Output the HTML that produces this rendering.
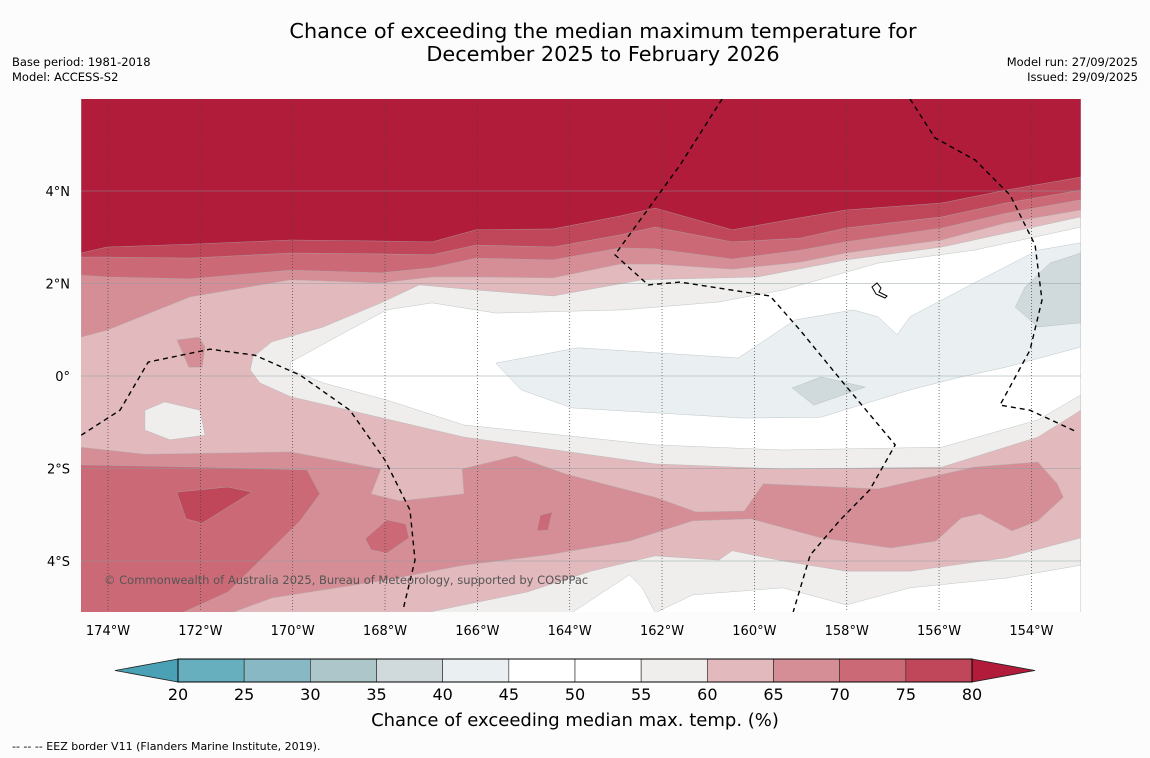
<!DOCTYPE html>
<html><head><meta charset="utf-8"><style>
body{margin:0;background:#fcfcfc;width:1150px;height:758px;overflow:hidden;font-family:"DejaVu Sans","Liberation Sans",sans-serif}
svg{position:absolute;left:0;top:0;font-family:"DejaVu Sans","Liberation Sans",sans-serif}
</style></head><body>
<svg id="chart" width="1150" height="758" viewBox="0 0 1150 758">
<defs><clipPath id="plotclip"><rect x="81" y="99" width="1000" height="513"/></clipPath></defs>
<text x="603" y="38" font-size="20.8" text-anchor="middle" fill="#000">Chance of exceeding the median maximum temperature for</text>
<text x="603" y="61" font-size="20.8" text-anchor="middle" fill="#000">December 2025 to February 2026</text>
<text x="12" y="66" font-size="11.5">Base period: 1981-2018</text>
<text x="12" y="81" font-size="11.5">Model: ACCESS-S2</text>
<text x="1138" y="66" font-size="11.5" text-anchor="end">Model run: 27/09/2025</text>
<text x="1138" y="81" font-size="11.5" text-anchor="end">Issued: 29/09/2025</text>
<g id="plot" clip-path="url(#plotclip)"></g>
<g id="axes"></g>
<g id="cbar"></g>
<text x="575" y="726" font-size="18" text-anchor="middle">Chance of exceeding median max. temp. (%)</text>
<text x="12" y="750" font-size="11">--  --  -- EEZ border V11 (Flanders Marine Institute, 2019).</text>
</svg>
<script>
const lonTicks=[-174,-172,-170,-168,-166,-164,-162,-160,-158,-156,-154];
const latTicks=[4,2,0,-2,-4];
const cbLevels=[20,25,30,35,40,45,50,55,60,65,70,75,80];
const cbColors=["#67aebe","#87b8c4","#adc6c9","#d0d9db","#eaf0f2","#ffffff","#ffffff","#efeeec","#e2b9bd","#d68e96","#cb6a76","#c0475a"];
const bandLons=[-174.58,-174.02,-172.22,-170.04,-168.11,-166.98,-166.03,-164.36,-162.91,-162.15,-160.48,-159.01,-158.02,-155.94,-154.55,-152.93];
const north65=[0.84,0.99,1.71,2.08,2.01,2.14,2.14,2.12,2.42,2.42,2.31,2.46,2.66,2.94,3.31,3.59];
const north70=[2.18,2.14,2.10,2.29,2.23,2.34,2.55,2.51,2.77,2.75,2.53,2.72,2.90,3.20,3.52,3.81];
const north75=[2.57,2.57,2.55,2.66,2.64,2.62,2.83,2.79,3.05,3.22,2.90,2.98,3.20,3.44,3.74,4.02];
const north80=[2.66,2.79,2.85,2.94,2.92,2.90,3.16,3.18,3.46,3.63,3.16,3.42,3.59,3.74,4.02,4.30];
const below60=[[-170.86,0.41],[-170.45,0.74],[-169.34,1.06],[-168.09,1.58],[-167.26,1.97],[-166.03,1.86],[-164.36,1.73],[-162.43,2.08],[-159.94,2.14],[-158.01,2.51],[-155.94,2.79],[-152.93,3.44],[-152.93,-0.74],[-153.86,-1.32],[-155.94,-1.97],[-159.38,-2.01],[-162.15,-1.90],[-166.29,-1.32],[-168.78,-0.74],[-170.04,-0.45],[-170.71,-0.15],[-170.92,0.13]];
const below55=[[-170.04,0.30],[-169.06,0.84],[-167.96,1.43],[-166.98,1.58],[-165.60,1.36],[-162.85,1.43],[-160.77,1.60],[-159.38,1.86],[-157.32,2.44],[-155.24,2.72],[-152.93,3.22],[-152.93,-0.41],[-153.86,-0.95],[-155.94,-1.54],[-159.38,-1.60],[-162.15,-1.49],[-166.29,-1.06],[-167.96,-0.52],[-169.34,-0.15],[-170.04,0.13]];
const below45=[[-165.60,0.28],[-163.82,0.61],[-160.35,0.39],[-159.12,1.21],[-157.86,1.43],[-157.32,1.28],[-156.91,0.89],[-156.63,1.28],[-155.24,2.01],[-153.86,2.72],[-152.93,2.88],[-152.93,0.63],[-154.55,0.19],[-155.52,-0.02],[-156.63,-0.30],[-158.56,-0.89],[-160.22,-0.91],[-163.95,-0.69],[-165.05,-0.30]];
const below40a=[[-152.93,2.66],[-153.60,2.44],[-154.14,1.92],[-154.35,1.49],[-153.86,1.06],[-152.93,1.15]];
const below40b=[[-159.18,-0.26],[-158.56,-0.02],[-157.60,-0.24],[-158.71,-0.63]];
const island5560=[[-173.20,-0.74],[-172.77,-0.56],[-172.01,-0.74],[-171.90,-1.28],[-172.66,-1.38],[-173.20,-1.17]];
const blob70n=[[-172.51,0.78],[-172.03,0.84],[-171.90,0.63],[-171.96,0.19],[-172.25,0.19]];
const bottom60=[[-167.96,-5.3],[-166.29,-4.95],[-164.92,-4.67],[-163.54,-4.22],[-162.15,-3.89],[-160.77,-3.98],[-160.48,-3.78],[-159.38,-4.00],[-158.01,-4.22],[-156.63,-4.22],[-154.55,-3.93],[-152.93,-3.50],[-152.93,-5.3]];
const bottom55=[[-164.23,-5.3],[-162.71,-4.30],[-162.43,-4.58],[-162.15,-5.12],[-161.33,-4.73],[-159.38,-4.58],[-158.01,-4.95],[-156.63,-4.58],[-154.55,-4.37],[-152.93,-4.09],[-152.93,-5.3]];
const south65=[[-174.58,-1.54],[-173.20,-1.69],[-170.04,-1.64],[-168.09,-2.01],[-168.30,-2.55],[-167.68,-2.70],[-166.29,-2.55],[-166.33,-2.01],[-165.18,-1.73],[-164.08,-2.12],[-162.15,-2.62],[-161.26,-2.94],[-160.22,-2.92],[-159.81,-2.33],[-157.32,-2.44],[-155.24,-1.97],[-153.86,-1.86],[-153.44,-2.33],[-153.31,-2.62],[-153.86,-3.13],[-154.42,-3.35],[-155.11,-2.98],[-155.52,-3.07],[-156.07,-3.57],[-157.04,-3.72],[-158.56,-3.50],[-160.07,-3.09],[-161.33,-3.13],[-162.71,-3.57],[-164.49,-3.87],[-166.29,-4.09],[-168.09,-4.43],[-170.45,-4.80],[-171.81,-5.3],[-174.7,-5.3]];
const south70=[[-174.7,-1.92],[-172.01,-1.97],[-169.69,-2.03],[-169.41,-2.55],[-169.84,-3.13],[-171.40,-4.67],[-172.79,-5.3],[-174.7,-5.3]];
const blob70a=[[-168.43,-3.52],[-167.96,-3.11],[-167.55,-3.20],[-167.48,-3.50],[-167.96,-3.83],[-168.30,-3.76]];
const blob70b=[[-164.64,-3.01],[-164.38,-2.94],[-164.47,-3.33],[-164.71,-3.35]];
const blob75=[[-172.51,-2.51],[-171.40,-2.40],[-170.88,-2.51],[-171.96,-3.18],[-172.31,-3.09]];
const eez1=[[-174.58,-1.28],[-173.74,-0.74],[-173.13,0.30],[-171.79,0.58],[-170.82,0.45],[-169.84,0.02],[-168.76,-0.74],[-168.00,-1.82],[-167.46,-2.90],[-167.35,-3.98],[-167.61,-5.06]];
const eez2=[[-160.70,5.99],[-161.61,4.56],[-163.02,2.62],[-162.30,1.97],[-161.61,2.03],[-159.66,1.73],[-159.01,0.99],[-158.04,-0.19],[-156.95,-1.49],[-157.50,-2.46],[-158.14,-3.11],[-158.79,-3.87],[-159.16,-5.10]];
const eez3=[[-156.63,5.99],[-156.09,5.15],[-155.22,4.67],[-154.46,3.91],[-153.92,2.83],[-153.77,1.64],[-154.03,0.56],[-154.68,-0.63],[-154.03,-0.74],[-153.01,-1.21]];

const NS="http://www.w3.org/2000/svg";
function xOf(lon){return 108+(lon+174)*46.17;}
function yOf(lat){return 376-lat*46.25;}
function cbX(v){return 178+(v-20)*(794/60);}
function mk(tag,attrs,parent){const e=document.createElementNS(NS,tag);for(const k in attrs)e.setAttribute(k,attrs[k]);parent.appendChild(e);return e;}
const plot=document.getElementById('plot');
const axes=document.getElementById('axes');
const cbar=document.getElementById('cbar');
function ptsStr(arr){return arr.map(p=>xOf(p[0]).toFixed(1)+','+yOf(p[1]).toFixed(1)).join(' ');}
function poly(arr,fill,name){
  const e=mk('polygon',{points:ptsStr(arr),fill:fill,stroke:'#a8b0b4','stroke-width':'0.5','stroke-opacity':'0.7'},plot);
  
  
}
function northBand(lats,fill,name){
  const arr=[[bandLons[0],7]].concat(bandLons.map((l,i)=>[l,lats[i]])).concat([[bandLons[bandLons.length-1],7]]);
  poly(arr,fill,name);
}
const base=mk('rect',{x:81,y:99,width:1000,height:513,fill:'#e2b9bd'},plot);


poly(below60,'#efeeec','band-55-60');
poly(below55,'#ffffff','band-45-55');
poly(below45,'#eaf0f2','band-40-45');
poly(below40a,'#d0d9db','band-35-40-east');
poly(below40b,'#d0d9db','band-35-40-central');
poly(island5560,'#efeeec','band-55-60-west-patch');
poly(blob70n,'#d68e96','band-65-70-north-patch');
northBand(north65,'#d68e96','band-north-65-70');
northBand(north70,'#cb6a76','band-north-70-75');
northBand(north75,'#c0475a','band-north-75-80');
northBand(north80,'#b01c3a','band-north-above-80');
poly(bottom60,'#efeeec','band-south-55-60');
poly(bottom55,'#ffffff','band-south-below-55');
poly(south65,'#d68e96','band-south-65-70');
poly(south70,'#cb6a76','band-south-70-75');
poly(blob70a,'#cb6a76','band-70-75-patch-a');
poly(blob70b,'#cb6a76','band-70-75-patch-b');
poly(blob75,'#c0475a','band-75-80-patch');
lonTicks.forEach(l=>{
  const g=mk('line',{x1:xOf(l),x2:xOf(l),y1:99,y2:612,stroke:'#444','stroke-width':'0.7','stroke-dasharray':'1,2'},plot);
  
  
  const t=mk('text',{x:xOf(l),y:635,'font-size':'13','text-anchor':'middle'},axes);
  t.textContent=Math.abs(l)+'°W';
  
  
});
latTicks.forEach(l=>{
  const g=mk('line',{x1:81,x2:1081,y1:yOf(l),y2:yOf(l),stroke:'#8a9a9e','stroke-width':'0.8','stroke-opacity':'0.6'},plot);
  
  
  const t=mk('text',{x:70,y:yOf(l)+5,'font-size':'13','text-anchor':'end'},axes);
  t.textContent=l===0?'0°':Math.abs(l)+'°'+(l>0?'N':'S');
  
  
});
[eez1,eez2,eez3].forEach(a=>{
  const e=mk('polyline',{points:ptsStr(a),fill:'none',stroke:'#000','stroke-width':'1.4','stroke-dasharray':'5,4'},plot);
  
  
});
const isl=mk('path',{d:'M872 287 l5 -4 l4 5 l-2 4 l8 4 l-2 2 l-9 -4 z',fill:'#fff',stroke:'#000','stroke-width':'1'},plot);


const cp=mk('text',{x:104,y:584,'font-size':'11.5',fill:'#555'},plot);
cp.textContent='© Commonwealth of Australia 2025, Bureau of Meteorology, supported by COSPPac';


cbColors.forEach((c,i)=>{
  const r=mk('rect',{x:cbX(cbLevels[i]),y:659,width:cbX(cbLevels[i+1])-cbX(cbLevels[i]),height:23,fill:c,stroke:'#222','stroke-width':'0.6'},cbar);
  
  
});
const tl=mk('polygon',{points:'178,659 115,670.5 178,682',fill:'#4aa0b4',stroke:'#222','stroke-width':'0.8'},cbar);


const tr=mk('polygon',{points:'972,659 1035,670.5 972,682',fill:'#b01c3a',stroke:'#222','stroke-width':'0.8'},cbar);


mk('rect',{x:178,y:659,width:794,height:23,fill:'none',stroke:'#000','stroke-width':'1'},cbar);
cbLevels.forEach(v=>{
  const t=mk('text',{x:cbX(v),y:700,'font-size':'16','text-anchor':'middle'},cbar);
  t.textContent=v;
  
  
});
</script>
</body></html>
